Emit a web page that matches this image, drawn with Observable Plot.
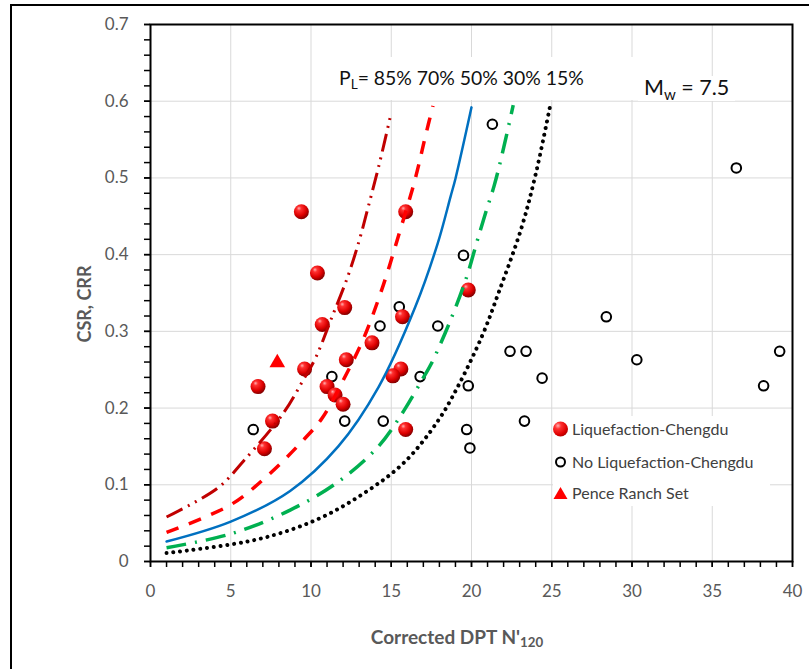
<!DOCTYPE html>
<html><head><meta charset="utf-8">
<script src="https://cdn.jsdelivr.net/npm/d3@7"></script>
<script src="https://cdn.jsdelivr.net/npm/@observablehq/plot@0.6"></script>
<style>
html,body{margin:0;padding:0;background:#fff;overflow:hidden;}
#wrap{position:relative;width:809px;height:669px;overflow:hidden;font-family:Lato,"Open Sans",sans-serif;}
#border{position:absolute;left:10px;top:4px;width:900px;height:800px;border:2px solid #000;box-sizing:border-box;pointer-events:none;}
#chart{position:absolute;left:0;top:0;}
.lbl{position:absolute;white-space:nowrap;}
#pl{left:330px;top:57px;width:300px;height:43px;line-height:41px;background:#fff;color:#111;font-size:19.4px;padding-left:9px;}
#mw{left:638px;top:76px;height:25px;line-height:23px;background:#fff;color:#111;font-size:21.5px;padding:0 6px;}
sub{font-size:0.7em;vertical-align:-0.3em;line-height:0;}
#ytitle{left:84px;top:304px;transform:translate(-50%,-50%) rotate(-90deg);font-weight:bold;font-size:18px;color:#595959;}
#xtitle{left:457px;top:636px;transform:translate(-50%,-50%);font-weight:bold;font-size:19px;color:#595959;}
#legend{position:absolute;left:553px;top:416px;width:217px;height:90px;background:#fff;color:#404040;font-size:16px;}
.item{position:absolute;left:0;height:20px;line-height:20px;}
.item .mk{position:absolute;left:0;top:10px;transform:translate(0,-50%);}
.item .tx{position:absolute;left:19px;top:0;white-space:nowrap;}
</style></head>
<body>
<div id="wrap">
<div id="chart"></div>
<div id="pl" class="lbl"></div>
<div id="mw" class="lbl"></div>
<div id="ytitle" class="lbl"></div>
<div id="xtitle" class="lbl"></div>
<div id="legend"></div>
<div id="border"></div>
</div>
<script>
// ---- data ----
const liquefaction = [[9.4,0.456],[15.9,0.456],[10.4,0.376],[12.1,0.331],[10.7,0.309],[15.7,0.319],[19.8,0.354],[13.8,0.285],[12.2,0.263],[9.6,0.251],[15.6,0.251],[15.1,0.242],[6.7,0.228],[11.0,0.228],[11.5,0.217],[12.0,0.205],[7.6,0.183],[7.1,0.147],[15.9,0.172]];
const noLiquefaction = [[21.3,0.570],[36.5,0.513],[19.5,0.399],[15.5,0.332],[14.3,0.307],[17.9,0.307],[28.4,0.319],[22.4,0.274],[23.4,0.274],[39.2,0.274],[30.3,0.263],[11.3,0.241],[16.8,0.241],[24.4,0.239],[19.8,0.229],[38.2,0.229],[6.4,0.172],[12.1,0.183],[14.5,0.183],[23.3,0.183],[19.7,0.172],[19.9,0.148]];
const penceRanch = [[7.9,0.259]];
const curve85 = [[1,0.058],[4.2,0.096],[5.8,0.131],[8.3,0.194],[9.5,0.236],[10.3,0.266],[11.2,0.313],[12.3,0.372],[13.0,0.418],[13.5,0.457],[13.9,0.489],[14.3,0.522],[15.0,0.585]];
const curve70 = [[1,0.038],[5.0,0.074],[7.3,0.112],[9.6,0.160],[10.7,0.187],[12.0,0.236],[13.3,0.292],[14.5,0.360],[15.6,0.435],[16.3,0.484],[16.7,0.516],[17.1,0.552],[17.6,0.594]];
const curve50 = [[1,0.026],[5.0,0.052],[8.7,0.092],[11.7,0.150],[14.2,0.227],[16.5,0.332],[17.9,0.415],[18.7,0.476],[19.0,0.499],[20.0,0.592]];
const curve30 = [[1,0.018],[5.0,0.036],[8.7,0.067],[11.7,0.104],[14.2,0.150],[15.8,0.197],[16.9,0.236],[17.5,0.258],[18.7,0.315],[19.7,0.371],[20.3,0.414],[20.9,0.456],[21.4,0.489],[21.9,0.530],[22.6,0.595]];
const curve15 = [[1,0.011],[6.7,0.029],[10.4,0.055],[13.3,0.089],[15.8,0.129],[17.9,0.183],[19.1,0.226],[20.7,0.296],[21.7,0.351],[23.1,0.434],[24.0,0.505],[24.9,0.594]];
const xTicks = [0,5,10,15,20,25,30,35,40];
const yTicks = [0,0.1,0.2,0.3,0.4,0.5,0.6,0.7];
const yTickLabels = ["0","0.1","0.2","0.3","0.4","0.5","0.6","0.7"];
const probLabels = ["85%","70%","50%","30%","15%"];
const legendLabels = ["Liquefaction-Chengdu","No Liquefaction-Chengdu","Pence Ranch Set"];
const xTitle = "Corrected DPT N'";
const xTitleSub = "120";
const yTitle = "CSR, CRR";
const magnitude = "7.5";

// ---- chart ----
const xMinor = d3.range(0, 41, 1);
const yMinor = d3.range(0, 36).map(i => i * 0.02);
const X = d => d[0], Y = d => d[1];

const chart = Plot.plot({
  width: 809, height: 669,
  marginLeft: 150, marginRight: 17, marginTop: 24, marginBottom: 108,
  style: {fontFamily: "Lato, 'Open Sans', sans-serif", fontSize: "17px", color: "#595959", background: "transparent", overflow: "visible"},
  x: {domain: [0, 40]},
  y: {domain: [0, 0.7]},
  marks: [
    Plot.gridX(xTicks, {stroke: "#d9d9d9", strokeOpacity: 1, strokeWidth: 1}),
    Plot.gridY(yTicks, {stroke: "#d9d9d9", strokeOpacity: 1, strokeWidth: 1}),
    Plot.dot(noLiquefaction, {x: X, y: Y, r: 4.8, stroke: "#000", strokeWidth: 2, fill: "none"}),
    Plot.dot(liquefaction, {x: X, y: Y, r: 7.5, fill: "#e00001", stroke: "none"}),
    Plot.dot(penceRanch, {x: X, y: Y, r: 5.8, symbol: "triangle", fill: "#ff0000", stroke: "none"}),
    Plot.line(curve85, {x: X, y: Y, curve: "catmull-rom", stroke: "#C00000", strokeWidth: 3, strokeLinecap: "butt", strokeDasharray: "18,6,2,6,2,6"}),
    Plot.line(curve70, {x: X, y: Y, curve: "catmull-rom", stroke: "#FF0000", strokeWidth: 3.5, strokeLinecap: "butt", strokeDasharray: "13,11"}),
    Plot.line(curve50, {x: X, y: Y, curve: "catmull-rom", stroke: "#0070C0", strokeWidth: 2.5}),
    Plot.line(curve30, {x: X, y: Y, curve: "catmull-rom", stroke: "#00B050", strokeWidth: 3.5, strokeLinecap: "butt", strokeDasharray: "20,9,2,9"}),
    Plot.line(curve15, {x: X, y: Y, curve: "catmull-rom", stroke: "#000", strokeWidth: 4, strokeLinecap: "round", strokeDasharray: "0.01,6.8"}),
    Plot.frame({stroke: "#000", strokeWidth: 2}),
    Plot.axisX(xMinor, {tickSize: 6, tickFormat: () => "", stroke: "#000", strokeWidth: 1.5, label: null}),
    Plot.axisY(yMinor, {tickSize: 6, tickFormat: () => "", stroke: "#000", strokeWidth: 1.5, label: null}),
    Plot.axisX(xTicks, {tickSize: 6, tickPadding: 17, stroke: "#000", strokeWidth: 1.5, fill: "#595959", tickFormat: d => String(d), label: null}),
    Plot.axisY(yTicks, {tickSize: 6, tickPadding: 16, stroke: "#000", strokeWidth: 1.5, fill: "#595959", tickFormat: (d, i) => yTickLabels[yTicks.indexOf(d)], label: null})
  ]
});
document.getElementById("chart").appendChild(chart);

// sphere gradient for the liquefaction markers
const svg = chart.tagName.toLowerCase() === "svg" ? chart : chart.querySelector("svg");
const defs = document.createElementNS("http://www.w3.org/2000/svg", "defs");
defs.innerHTML = '<radialGradient id="sphere" cx="0.4" cy="0.35" r="0.68" fx="0.33" fy="0.27">' +
  '<stop offset="0" stop-color="#ffb0b0"/><stop offset="0.22" stop-color="#ff3030"/>' +
  '<stop offset="0.65" stop-color="#dd0000"/><stop offset="1" stop-color="#780000"/></radialGradient>';
svg.insertBefore(defs, svg.firstChild);
svg.querySelectorAll('[fill="#e00001"]').forEach(el => el.setAttribute("fill", "url(#sphere)"));

// text annotations
document.getElementById("pl").innerHTML = "P<sub>L</sub>= " + probLabels.join(" ");
document.getElementById("mw").innerHTML = "M<sub>w</sub> = " + magnitude;
document.getElementById("ytitle").textContent = yTitle;
document.getElementById("xtitle").innerHTML = xTitle + "<sub>" + xTitleSub + "</sub>";

// legend
const markers = [
  '<span style="display:block;width:15px;height:15px;border-radius:50%;background:radial-gradient(circle at 33% 28%, #ffb0b0 0%, #ff3030 22%, #dd0000 60%, #780000 100%);"></span>',
  '<span style="display:block;width:11px;height:11px;margin-left:2px;border-radius:50%;border:2px solid #000;box-sizing:border-box;"></span>',
  '<svg width="15" height="14" style="display:block"><polygon points="7.5,1 14.5,13 0.5,13" fill="#ff0000"/></svg>'
];
const lg = document.getElementById("legend");
const rowsTop = [3, 36, 67];
legendLabels.forEach((t, i) => {
  const it = document.createElement("div");
  it.className = "item";
  it.style.top = rowsTop[i] + "px";
  it.innerHTML = '<span class="mk">' + markers[i] + '</span><span class="tx"></span>';
  it.querySelector(".tx").textContent = t;
  lg.appendChild(it);
});
</script>
</body></html>
